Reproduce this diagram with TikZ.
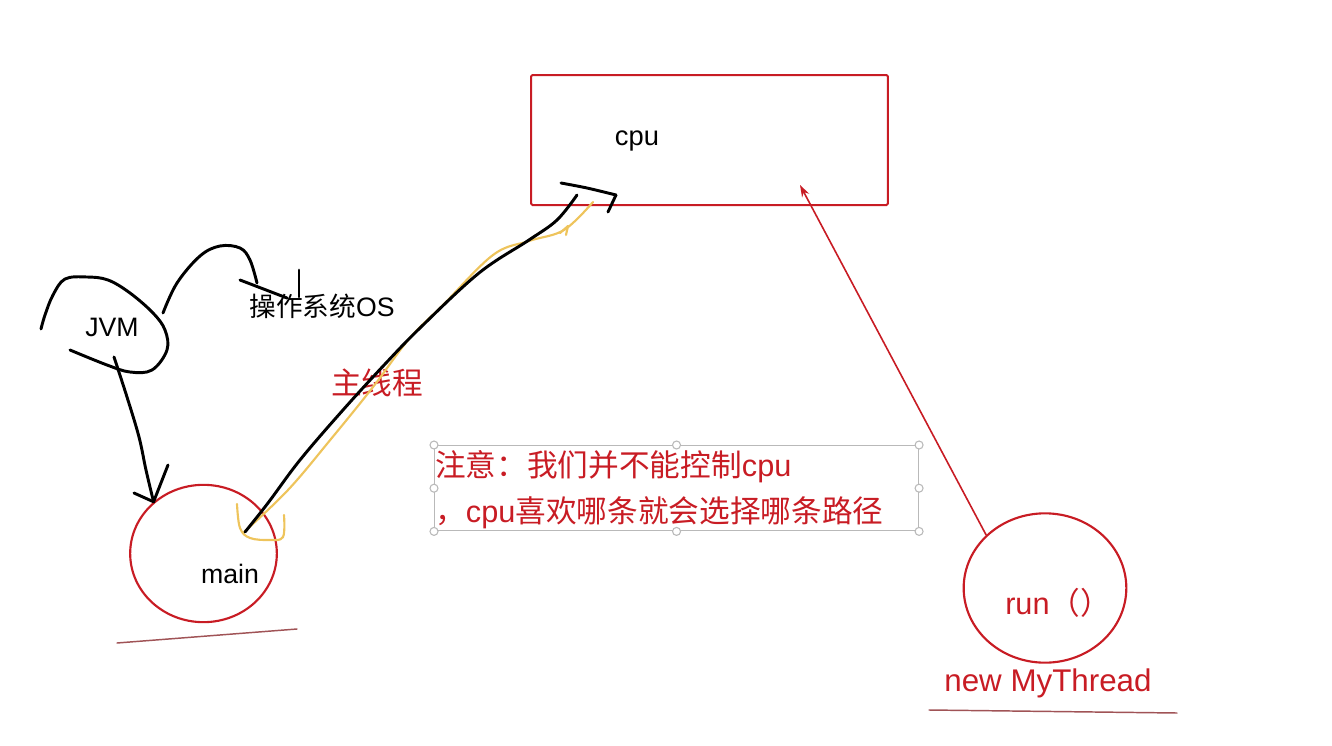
\documentclass[tikz,border=0pt]{standalone}
\usepackage{fontspec}
\setmainfont{Liberation Sans}
\newfontfamily\cjk{Noto Sans CJK SC}
\usepackage{tikz}
\usetikzlibrary{arrows.meta, positioning, shapes.geometric}
\usepackage{xcolor}
\definecolor{penred}{RGB}{200,28,36}
\definecolor{penyellow}{RGB}{238,196,92}
\definecolor{boxgray}{RGB}{185,185,185}

\begin{document}
\begin{tikzpicture}[x=0.75pt, y=-0.75pt,
  blacktext/.style={font=\fontsize{20}{24}\selectfont, text=black, inner sep=0pt},
  redtext/.style={font=\fontsize{23}{28}\selectfont, text=penred, inner sep=0pt},
  redring/.style={draw=penred, ellipse, line width=1.6pt, inner sep=0pt},
  pen/.style={line width=2.2pt, line cap=round, line join=round},
  hilite/.style={draw=penyellow, line width=1.6pt, line cap=round, line join=round},
  handle/.style={circle, draw=boxgray, fill=white, line width=0.8pt,
                 minimum size=6pt, inner sep=0pt},
  redarrow/.style={draw=penred, line width=1.2pt, -{Stealth[length=9pt, width=6pt]}},
  understroke/.style={draw=penred!45!gray, line width=1.1pt, line cap=round}
]
\useasboundingbox (0,0) rectangle (1332,746);

%--- CPU box ---
\node[draw=penred, line width=1.5pt, rounded corners=1pt,
      minimum width=267.5pt, minimum height=97.5pt] (cpu) at (709.5,140) {};
\node[blacktext, font=\fontsize{20.5}{24}\selectfont] (cputxt) at (637,141) {cpu};

%--- Circles ---
\node[redring, minimum width=110pt, minimum height=103pt] (mainc) at (203.5,553.5) {};
\node[blacktext] (maintxt) at (230,574) {main};
\node[redring, minimum width=122pt, minimum height=112pt] (runc) at (1045,588) {};
\node[redtext, anchor=west] (runtxt) at (1005,603) {run{\cjk （）}};
\node[redtext, font=\fontsize{23.5}{28}\selectfont] (thread) at (1048,683) {new MyThread};
\draw[understroke] (117,643) -- (297,629);
\draw[understroke] (929,710) -- (1177,713);

%--- Labels ---
\node[blacktext] (jvm) at (112,327) {JVM};
\node[blacktext] (os) at (322,306) {{\cjk 操作系统}OS};
\node[redtext] (mainline) at (377,383) {\cjk 主线程};

%--- Note box ---
\node[draw=boxgray, line width=0.8pt, minimum width=363pt, minimum height=64pt,
      anchor=north west, inner sep=0pt] (note) at (434,445) {};
\node[redtext, anchor=west, align=left, font=\fontsize{23}{34.5}\selectfont]
  (notetxt) at (435,490)
  {{\cjk 注意：我们并不能控制}cpu\\{\cjk ，}cpu{\cjk 喜欢哪条就会选择哪条路径}};
\foreach \a in {north west, north, north east, east, south east, south, south west, west}
  \node[handle] at (note.\a) {};

%--- Scribbles round JVM ---
\draw[pen] plot[smooth, tension=0.6] coordinates {(41,329) (45,315) (53,295) (65,279)
  (87,277) (108,280) (130,293) (153,313) (165,330) (167,350) (152,370) (130,372)
  (107,365) (70,350)};
\draw[pen] plot[smooth, tension=0.6] coordinates {(163,313) (177,283) (200,256)
  (220,246) (240,248) (250,260) (257,283)};
\draw[pen] (240,280) -- (287,298);
\draw[pen] (299,270) -- (299,297);

%--- JVM to main ---
\coordinate (jvmfoot) at (114,357);
\draw[pen] plot[smooth, tension=0.6] coordinates {(jvmfoot) (127,397) (139,437)
  (146,470) (mainc.134)};
\draw[pen] (134,493) -- (mainc.134) -- (168,465);

%--- Main thread to cpu ---
\coordinate (mainstart) at (245,532);
\coordinate (cpuend) at (577,195);
\draw[hilite] plot[smooth, tension=0.6] coordinates {(243,533) (288,490) (331,439)
  (373,387) (409,339) (443,305) (493,255) (529,241) (564,230) (593,202)};
\draw[hilite] (560,233) -- (568,226) -- (566,235);
\draw[hilite] plot[smooth, tension=0.6] coordinates {(237,504) (240,528) (250,538)
  (270,540) (283,537) (284,515)};
\draw[pen] plot[smooth, tension=0.6] coordinates {(mainstart) (268,503) (300,460)
  (343,410) (386,363) (421,327) (479,273) (529,240) (557,220) (cpuend)};
\draw[pen] plot[smooth, tension=0.5] coordinates {(561,183) (587,188) (616,195)};
\draw[pen] (616,195) -- (608,212);

%--- run to cpu ---
\coordinate (cputip) at (800,185);
\draw[redarrow] (runc.138) -- (cputip);

\end{tikzpicture}
\end{document}
